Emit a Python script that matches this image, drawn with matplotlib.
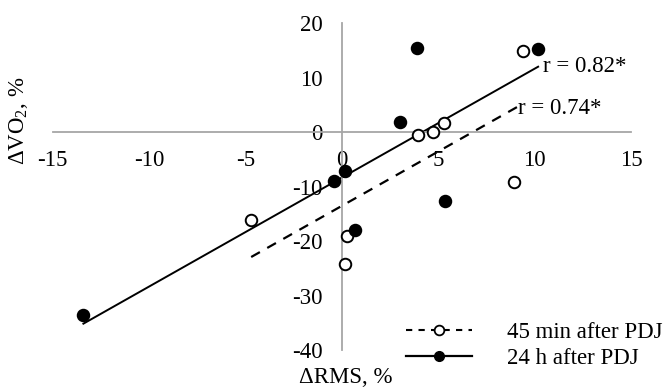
import numpy as np
import matplotlib
matplotlib.use("Agg")
import matplotlib.pyplot as plt
from matplotlib.lines import Line2D

plt.rcParams['font.family'] = ['Liberation Serif', 'DejaVu Serif']
plt.rcParams['mathtext.fontset'] = 'custom'
plt.rcParams['mathtext.rm'] = 'Liberation Serif'
plt.rcParams['font.size'] = 16.5

# 45 min after PDJ (open circles)
rms_45 = [-4.7, 0.26, 0.15, 3.96, 4.74, 5.29, 9.41, 8.92]
vo2_45 = [-16.1, -19.0, -24.2, -0.6, 0.1, 1.7, 14.9, -9.2]
# 24 h after PDJ (filled circles)
rms_24 = [-13.4, -0.4, 0.18, 0.68, 3.04, 3.88, 5.33, 10.18]
vo2_24 = [-33.6, -9.0, -7.2, -18.0, 1.8, 15.5, -12.7, 15.3]

labels = ['45 min after PDJ', '24 h after PDJ']
r_texts = ['r = 0.74*', 'r = 0.82*']

fig = plt.figure(figsize=(6.65, 3.9), dpi=100)
ax = fig.add_axes([0.079, 0.1026, 0.870, 0.838])

# trendlines over each data range
for xs, ys, ls, lw in [(rms_45, vo2_45, (0, (4.5, 3.8)), 1.6), (rms_24, vo2_24, '-', 1.4)]:
    k, b = np.polyfit(xs, ys, 1)
    xx = np.array([min(xs), max(xs)])
    ax.plot(xx, k * xx + b, color='black', linestyle=ls, linewidth=lw, zorder=2)

ax.plot(rms_45, vo2_45, 'o', ms=8.3, mfc='white', mec='black', mew=1.4, zorder=3)
ax.plot(rms_24, vo2_24, 'o', ms=8.3, mfc='black', mec='black', mew=1.4, zorder=3)

ax.text(10.45, 12.1, r_texts[1], va='center', ha='left')
ax.text(9.15, 4.4, r_texts[0], va='center', ha='left')

ax.set_xlim(-15, 15)
ax.set_ylim(-40, 20)
ax.set_xticks([-15, -10, -5, 0, 5, 10, 15])
ax.set_yticks([-40, -30, -20, -10, 0, 10, 20])
ax.set_xticklabels(['-15', '-10', '-5', '0', '5', '10', '15'])
ax.set_yticklabels(['-40', '-30', '-20', '-10', '0', '10', '20'])
ax.spines['left'].set_position(('data', 0))
ax.spines['bottom'].set_position(('data', 0))
ax.spines['top'].set_visible(False)
ax.spines['right'].set_visible(False)
for s in ['left', 'bottom']:
    ax.spines[s].set_color('#a6a6a6')
    ax.spines[s].set_linewidth(1.3)
ax.tick_params(axis='x', length=0, pad=13)
ax.tick_params(axis='y', length=0, pad=14)
ax.patch.set_visible(False)

handles = [
    Line2D([], [], color='black', linestyle=(0, (3, 3)), lw=1.5, marker='o',
           ms=7, mfc='white', mec='black', mew=1.3),
    Line2D([], [], color='black', linestyle='-', lw=1.6, marker='o',
           ms=7, mfc='black', mec='black'),
]
fig.legend(handles, labels, loc='lower right', bbox_to_anchor=(1.027, 0.0),
           frameon=False, numpoints=1, handlelength=2.9, handletextpad=1.5,
           labelspacing=0.22)

fig.text(0.028, 0.69, 'ΔVO$_\\mathregular{2}$, %', rotation=90, ha='center', va='center')
fig.text(0.52, 0.032, 'ΔRMS, %', ha='center', va='center')

fig.savefig('out.png', dpi=100)
